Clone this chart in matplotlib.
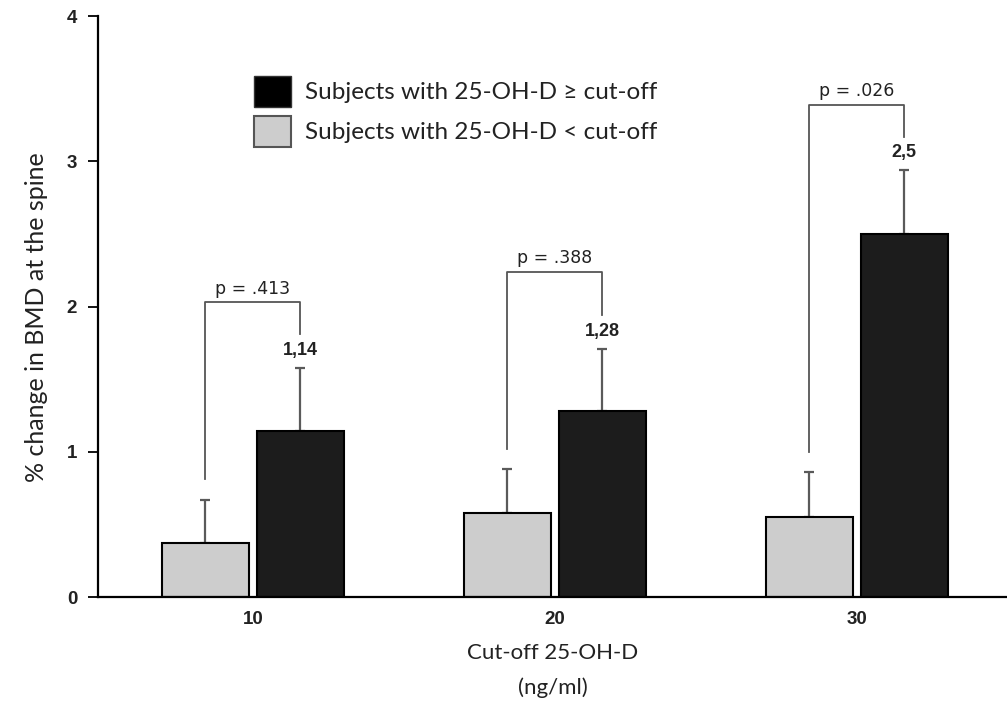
import matplotlib.pyplot as plt
import numpy as np
from matplotlib.patches import Patch

cutoffs = ['10', '20', '30']
below_mean = [0.37, 0.58, 0.55]     # subjects with 25-OH-D < cut-off
below_err = [0.30, 0.30, 0.31]
above_mean = [1.14, 1.28, 2.50]     # subjects with 25-OH-D >= cut-off
above_err = [0.44, 0.43, 0.44]
above_labels = ['1,14', '1,28', '2,5']
p_values = ['p = .413', 'p = .388', 'p = .026']
bracket_top = [2.03, 2.24, 3.39]

fig = plt.figure(figsize=(10.07, 7.18), dpi=100)
ax = fig.add_axes([0.0973, 0.1685, 0.9027, 0.8092])

x = np.arange(len(cutoffs))
w = 0.288
off = 0.157

ax.bar(x - off, below_mean, w, color='#cdcdcd', edgecolor='black', linewidth=1.5, zorder=2)
ax.bar(x + off, above_mean, w, color='#1c1c1c', edgecolor='black', linewidth=1.5, zorder=2)
ax.errorbar(x - off, below_mean, yerr=[np.zeros(3), below_err], fmt='none',
            ecolor='#5a5a5a', elinewidth=1.6, capsize=3.5, capthick=1.6, zorder=1)
ax.errorbar(x + off, above_mean, yerr=[np.zeros(3), above_err], fmt='none',
            ecolor='#5a5a5a', elinewidth=1.6, capsize=3.5, capthick=1.6, zorder=1)

for i in range(len(cutoffs)):
    left_end = below_mean[i] + below_err[i] + 0.14
    right_end = above_mean[i] + above_err[i] + 0.23
    ax.plot([x[i] - off, x[i] - off, x[i] + off, x[i] + off],
            [left_end, bracket_top[i], bracket_top[i], right_end],
            color='#555555', lw=1.3)
    ax.text(x[i], bracket_top[i] + 0.03, p_values[i], ha='center', va='bottom',
            fontsize=12.5, family='DejaVu Sans', color='#222222')
    ax.text(x[i] + off, above_mean[i] + above_err[i] + 0.12, above_labels[i],
            ha='center', va='center', fontsize=13, fontweight='bold',
            family='Liberation Sans', color='#222222')

ax.set_xlim(-0.513, 2.497)
ax.set_ylim(0, 4)
ax.set_yticks([0, 1, 2, 3, 4])
ax.set_xticks(x)
ax.set_xticklabels(cutoffs)
for lab in ax.get_xticklabels() + ax.get_yticklabels():
    lab.set_fontweight('bold')
    lab.set_family('Liberation Sans')
    lab.set_fontsize(13.5)
    lab.set_color('#222222')
ax.tick_params(axis='x', length=0, pad=10)
ax.tick_params(axis='y', length=7, width=1.3, pad=8)
ax.spines['top'].set_visible(False)
ax.spines['right'].set_visible(False)
ax.spines['left'].set_linewidth(1.6)
ax.spines['bottom'].set_linewidth(1.6)

ax.set_ylabel('% change in BMD at the spine', fontsize=18, family='Lato', color='#222222')
ax.yaxis.set_label_coords(-0.055, 0.482)
ax.set_xlabel('Cut-off 25-OH-D\n(ng/ml)', fontsize=16, family='Lato',
              color='#222222', labelpad=11, linespacing=1.85)

handles = [Patch(facecolor='black', edgecolor='#333333'),
           Patch(facecolor='#cdcdcd', edgecolor='#555555', linewidth=1.5)]
leg = ax.legend(handles, ['Subjects with 25-OH-D \u2265 cut-off', 'Subjects with 25-OH-D < cut-off'],
                loc='upper left', bbox_to_anchor=(0.148, 0.935), frameon=False,
                prop={'family': 'Lato', 'size': 17.5}, handlelength=1.5, handleheight=1.6,
                handletextpad=0.6, labelspacing=0.36)
for t in leg.get_texts():
    t.set_color('#222222')

fig.savefig('out.png', dpi=100)
